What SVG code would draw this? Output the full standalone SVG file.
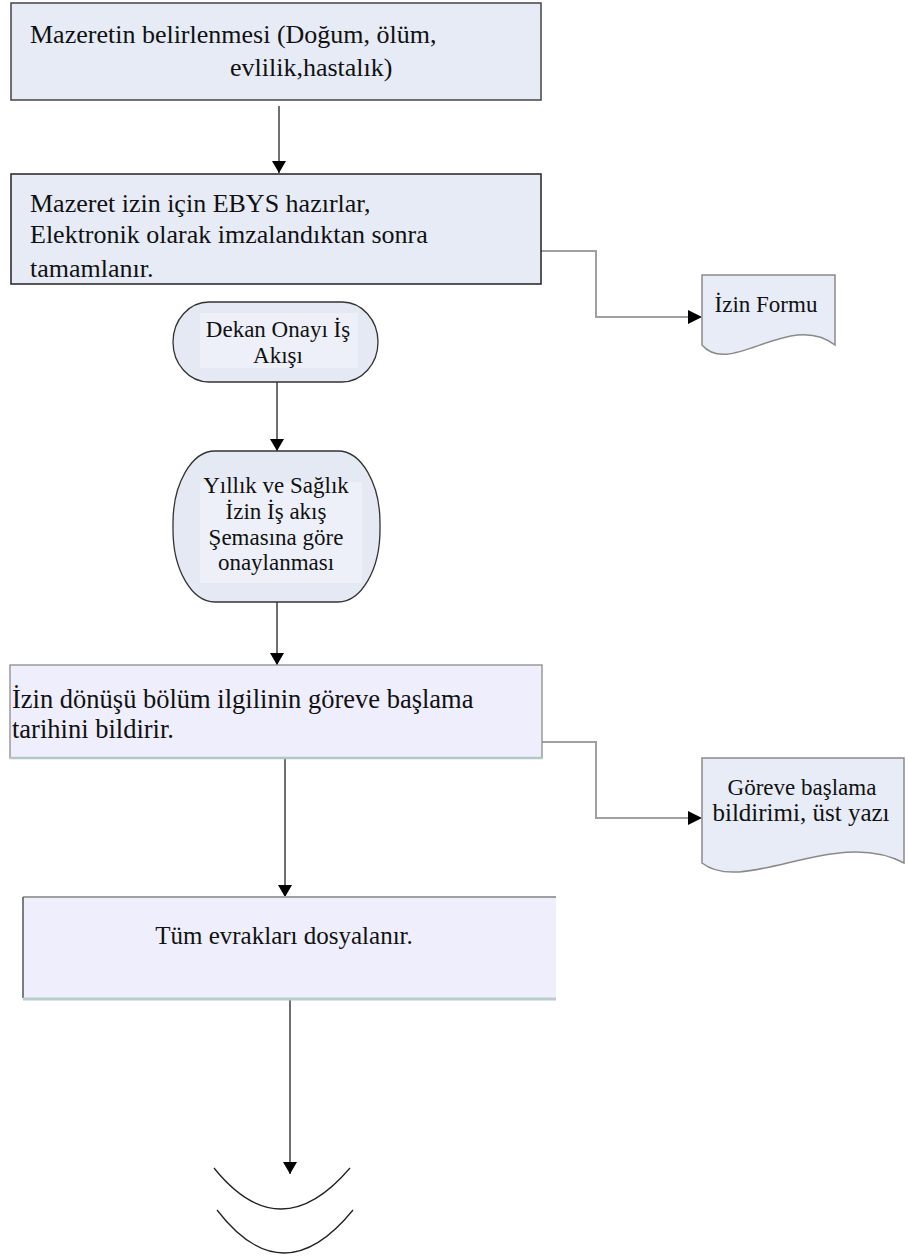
<svg xmlns="http://www.w3.org/2000/svg" width="909" height="1257" viewBox="0 0 909 1257">
<style>
.bt{font-size:26px}
.tt{font-size:23px;text-anchor:middle}
.dt{font-size:23px;text-anchor:middle}
.ln{stroke:#222;stroke-width:1.3;fill:none}
.gl{stroke:#a0a0a0;stroke-width:2;fill:none}
.term{fill:#e4e9f4;stroke:#333;stroke-width:1.3}
.doc{fill:#e8ecf7;stroke:#8a8a8a;stroke-width:1.5}
</style>
<defs>
<marker id="ah" viewBox="0 0 12 14" refX="12" refY="7" markerWidth="12" markerHeight="14" markerUnits="userSpaceOnUse" orient="auto">
<path d="M0,0 L12,7 L0,14 Z" fill="#000"/>
</marker>
</defs>
<rect width="909" height="1257" fill="#fff"/>
<g id="connectors">
<line class="ln" x1="279" y1="106" x2="279" y2="173" marker-end="url(#ah)"/>
<polyline class="gl" points="541,251 596,251 596,317 690,317"/>
<path d="M688,310 L702,317 L688,324 Z" fill="#000"/>
<line class="ln" x1="277" y1="382" x2="277" y2="451" marker-end="url(#ah)"/>
<line class="ln" x1="277" y1="602" x2="277" y2="665" marker-end="url(#ah)"/>
<polyline class="gl" points="542,742 596,742 596,818 690,818"/>
<path d="M688,811 L702,818 L688,825 Z" fill="#000"/>
<line class="ln" x1="285" y1="758" x2="285" y2="897" marker-end="url(#ah)"/>
<line class="ln" x1="290" y1="999" x2="290" y2="1174" marker-end="url(#ah)"/>
</g>
<g font-family="'Liberation Serif', 'DejaVu Serif', serif" fill="#111">
<g id="n1">
<rect x="11" y="3" width="530" height="97" fill="#e6ebf6" stroke="#444" stroke-width="1.5"/>
<text class="bt" x="30" y="43">Mazeretin belirlenmesi (Doğum, ölüm,</text>
<text class="bt" x="230" y="76">evlilik,hastalık)</text>
</g>
<g id="n2">
<rect x="11" y="174" width="530" height="110" fill="#e6ebf6" stroke="#222" stroke-width="1.5"/>
<text class="bt" x="30" y="212">Mazeret izin için EBYS hazırlar,</text>
<text class="bt" x="30" y="243">Elektronik olarak imzalandıktan sonra</text>
<text class="bt" x="30" y="277">tamamlanır.</text>
</g>
<g id="d1">
<path class="doc" d="M702,345 V275 H835 V345 C790,310 730,378 702,345 Z"/>
<text class="dt" x="766" y="312">İzin Formu</text>
</g>
<g id="t1">
<rect class="term" x="173" y="302" width="205" height="80" rx="36" ry="40"/>
<rect x="200" y="313" width="158" height="55" fill="#edf0f8"/>
<text class="tt" x="278" y="337">Dekan Onayı İş</text>
<text class="tt" x="278" y="363">Akışı</text>
</g>
<g id="t2">
<rect class="term" x="173" y="451" width="207" height="151" rx="42" ry="72"/>
<rect x="200" y="482" width="162" height="101" fill="#edf0f8"/>
<text class="tt" x="276" y="493">Yıllık ve Sağlık</text>
<text class="tt" x="276" y="519">İzin İş akış</text>
<text class="tt" x="276" y="545">Şemasına göre</text>
<text class="tt" x="276" y="570">onaylanması</text>
</g>
<g id="n4">
<rect x="10" y="665" width="532" height="93" fill="#eeeefc" stroke="#8c8c8c" stroke-width="1.3"/>
<line x1="10" y1="758" x2="542" y2="758" stroke="#b2c8c8" stroke-width="2.5"/>
<text class="bt" x="12" y="708" style="font-size:26.5px">İzin dönüşü bölüm ilgilinin göreve başlama</text>
<text class="bt" x="12" y="738" style="font-size:26.5px">tarihini bildirir.</text>
</g>
<g id="d2">
<path class="doc" d="M702,863 V758 H904 V863 C836,826 744,896 702,863 Z"/>
<text class="dt" x="802" y="795">Göreve başlama</text>
<text class="dt" x="801" y="821" style="font-size:25px">bildirimi, üst yazı</text>
</g>
<g id="n5">
<rect x="23" y="897" width="533" height="101" fill="#eeeefc"/>
<line x1="23" y1="897" x2="556" y2="897" stroke="#a0a0a0" stroke-width="2"/>
<line x1="23" y1="897" x2="23" y2="998" stroke="#555" stroke-width="1.5"/>
<line x1="23" y1="999" x2="556" y2="999" stroke="#b8cccc" stroke-width="3"/>
<text class="bt" x="284" y="944" text-anchor="middle" style="font-size:25px">Tüm evrakları dosyalanır.</text>
</g>
</g>
<g id="end">
<path class="ln" d="M214,1168 Q280,1250 350,1168"/>
<path class="ln" d="M217,1210 Q283,1296 353,1210"/>
</g>
</svg>
